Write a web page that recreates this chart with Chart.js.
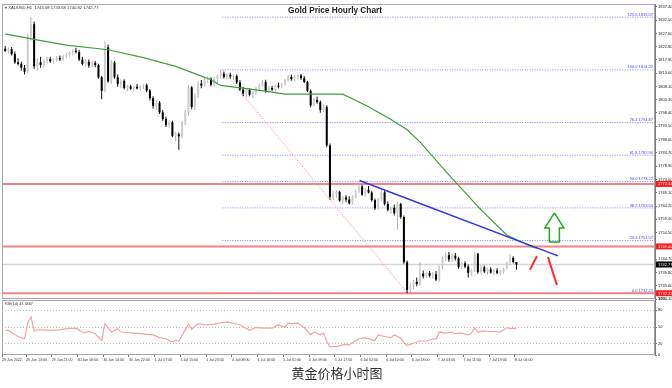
<!DOCTYPE html>
<html>
<head>
<meta charset="utf-8">
<title>Gold Price Hourly Chart</title>
<script src="https://cdn.jsdelivr.net/npm/chart.js@4.4.1/dist/chart.umd.min.js"></script>
<style>
html,body{margin:0;padding:0;background:#ffffff;}
canvas{display:block;}
</style>
</head>
<body>
<canvas id="chart" width="672" height="388"></canvas>
<script>
// ---------------- data ----------------
const symbol = 'XAUUSD,H1';
const chartTitle = 'Gold Price Hourly Chart';
const caption = '黄金价格小时图';

const openP = [
1822.0,1821.2,1821.8,1820.0,1817.0,1816.4,1815.0,1813.8,1826.5,1831.0,
1815.5,1817.0,1816.0,1817.5,1818.2,1817.3,1818.0,1818.6,1818.0,1819.2,
1819.6,1820.6,1821.2,1820.8,1818.0,1816.4,1817.2,1815.8,1816.8,1816.0,
1811.5,1806.5,1822.5,1810.0,1817.0,1811.5,1809.0,1810.2,1807.6,1808.2,
1807.2,1808.0,1807.4,1808.2,1808.6,1806.6,1803.8,1801.0,1802.2,1798.6,
1796.2,1794.0,1795.0,1790.0,1790.6,1789.8,1795.0,1798.5,1807.8,1800.6,
1805.0,1809.2,1808.4,1810.6,1811.0,1808.8,1810.8,1812.0,1812.8,1811.6,
1812.4,1811.8,1812.0,1809.6,1807.0,1805.5,1806.8,1805.0,1806.0,1807.5,
1808.5,1809.8,1806.5,1807.6,1807.0,1808.4,1808.0,1809.2,1810.5,1811.6,
1810.8,1811.8,1812.2,1811.2,1809.8,1806.5,1801.2,1803.2,1802.4,1799.5,
1800.7,1786.5,1767.6,1768.6,1769.4,1766.2,1767.4,1766.6,1765.2,1767.8,
1769.6,1771.4,1768.4,1770.2,1769.2,1766.4,1763.4,1766.6,1769.2,1765.0,
1762.8,1763.5,1761.6,1765.0,1760.2,1743.6,1733.4,1734.8,1736.4,1735.6,
1739.4,1738.4,1739.6,1738.6,1739.2,1737.2,1741.8,1745.0,1746.2,1744.6,
1746.0,1745.0,1741.8,1743.2,1742.0,1739.6,1740.6,1746.8,1740.0,1741.8,
1740.2,1741.0,1739.8,1740.6,1739.6,1740.2,1741.2,1743.4,1745.2,1743.68];
const highP = [
1823.0,1822.4,1822.6,1821.0,1818.5,1817.2,1816.0,1827.5,1833.5,1832.0,
1818.5,1819.0,1818.0,1819.0,1819.0,1818.5,1819.3,1819.5,1819.8,1820.5,
1821.0,1821.8,1822.3,1821.6,1819.0,1818.0,1818.0,1817.6,1817.5,1816.5,
1812.0,1824.7,1823.5,1817.8,1817.5,1812.5,1810.8,1810.8,1808.8,1808.8,
1808.5,1809.0,1808.6,1809.0,1809.2,1807.2,1804.5,1803.0,1802.8,1799.5,
1797.0,1795.6,1795.5,1791.5,1791.2,1795.5,1799.5,1808.8,1808.2,1805.6,
1810.0,1810.5,1811.2,1811.8,1811.5,1811.5,1812.5,1814.22,1813.6,1813.0,
1813.2,1812.6,1812.6,1810.5,1808.0,1807.5,1807.5,1806.5,1808.0,1809.0,
1810.5,1810.6,1808.2,1808.4,1808.8,1809.6,1809.5,1811.0,1812.2,1812.5,
1812.3,1812.6,1812.8,1812.0,1810.2,1807.0,1804.0,1804.4,1803.0,1801.5,
1801.2,1787.2,1769.8,1770.0,1769.8,1768.0,1768.2,1767.8,1768.2,1770.2,
1773.2,1772.0,1770.8,1771.6,1769.8,1767.0,1767.2,1770.0,1769.8,1766.0,
1764.0,1764.8,1765.8,1765.4,1760.8,1744.2,1735.8,1737.2,1738.0,1743.6,
1740.6,1740.2,1740.4,1740.0,1740.4,1742.4,1745.6,1747.2,1747.4,1746.8,
1747.0,1745.6,1743.8,1744.0,1742.8,1741.0,1747.3,1747.0,1742.6,1742.4,
1741.6,1741.8,1741.2,1741.4,1740.8,1741.6,1743.8,1746.6,1745.8,1743.68];
const lowP = [
1820.8,1820.2,1819.5,1816.5,1815.8,1814.0,1812.5,1813.0,1825.0,1814.5,
1814.0,1815.0,1815.0,1816.5,1816.8,1816.5,1817.2,1817.5,1817.6,1818.5,
1819.0,1819.8,1820.2,1817.5,1815.8,1815.5,1815.0,1815.0,1815.2,1811.0,
1803.4,1806.0,1809.5,1809.0,1811.0,1808.0,1807.5,1807.0,1806.5,1806.8,
1806.2,1807.0,1806.5,1807.2,1806.0,1803.0,1800.0,1799.5,1798.0,1795.5,
1793.2,1793.0,1789.5,1788.0,1784.9,1789.0,1794.0,1797.5,1799.8,1799.5,
1804.0,1807.5,1808.0,1809.5,1808.2,1808.0,1809.5,1811.0,1811.0,1810.6,
1811.0,1810.5,1809.0,1806.5,1804.5,1804.2,1804.5,1803.8,1805.0,1806.8,
1808.0,1805.8,1805.8,1806.5,1806.2,1807.4,1807.5,1808.5,1810.0,1810.2,
1810.0,1810.8,1810.5,1809.4,1806.0,1800.5,1800.8,1801.8,1798.5,1798.8,
1785.8,1766.5,1766.4,1767.2,1765.8,1765.0,1765.6,1764.8,1764.8,1767.2,
1769.0,1768.0,1767.6,1768.8,1765.8,1762.8,1763.0,1766.0,1764.4,1762.2,
1761.4,1760.8,1755.5,1759.6,1743.0,1732.22,1732.6,1733.6,1734.8,1735.0,
1737.6,1737.8,1738.0,1737.4,1736.6,1736.4,1741.0,1744.0,1743.8,1743.6,
1744.2,1741.2,1741.0,1741.4,1738.0,1738.6,1740.0,1739.4,1739.2,1739.6,
1739.0,1739.4,1739.0,1739.2,1738.8,1739.4,1740.8,1742.8,1743.2,1740.82];
const closeP = [
1821.2,1821.8,1820.0,1817.0,1816.4,1815.0,1813.5,1826.5,1831.0,1815.5,
1817.0,1816.0,1817.5,1818.2,1817.3,1818.0,1818.6,1818.0,1819.2,1819.6,
1820.6,1821.2,1820.8,1818.0,1816.4,1817.2,1815.8,1816.8,1816.0,1811.5,
1806.5,1822.5,1810.0,1817.0,1811.5,1809.0,1810.2,1807.6,1808.2,1807.2,
1808.0,1807.4,1808.2,1808.6,1806.6,1803.8,1801.0,1802.2,1798.6,1796.2,
1794.0,1795.0,1790.0,1790.6,1789.8,1795.0,1798.5,1807.8,1800.6,1805.0,
1809.2,1808.4,1810.6,1811.0,1808.8,1810.8,1812.0,1812.8,1811.6,1812.4,
1811.8,1812.0,1809.6,1807.0,1805.5,1806.8,1805.0,1806.0,1807.5,1808.5,
1809.8,1806.5,1807.6,1807.0,1808.4,1808.0,1809.2,1810.5,1811.6,1810.8,
1811.8,1812.2,1811.2,1809.8,1806.5,1801.2,1803.2,1802.4,1799.5,1800.7,
1786.5,1767.6,1768.6,1769.4,1766.2,1767.4,1766.6,1765.2,1767.8,1769.6,
1771.4,1768.4,1770.2,1769.2,1766.4,1763.4,1766.6,1769.2,1765.0,1762.8,
1763.5,1761.6,1765.0,1760.2,1743.6,1733.4,1734.8,1736.4,1735.6,1739.4,
1738.4,1739.6,1738.6,1739.2,1737.2,1741.8,1745.0,1746.2,1744.6,1746.0,
1745.0,1741.8,1743.2,1742.0,1739.6,1740.6,1746.8,1740.0,1741.8,1740.2,
1741.0,1739.8,1740.6,1739.6,1740.2,1741.2,1743.4,1745.2,1743.68,1742.77];

// moving average (green), read at sampled bar positions
const maBars   = [0,9,19,32,43,53,60,64,67,75,82,87,105,113,120,125,129,138,148,156,164,165.4];
const maValues = [1827.4,1825.4,1823.3,1821.6,1818.7,1815.5,1812.4,1810.6,1808.5,1807.3,1806.2,1805.3,1805.3,1800.7,1796.0,1792.2,1787.8,1775.7,1762.8,1753.6,1749.1,1748.8];

// RSI(14), read at sampled bar positions
const rsiBars = [0,1,2,3,4,5,6,7,8,9,10,12,14,17,19,22,24,25,26,28,30,31,33,35,36,42,46,48,50,52,53,54,57,58,60,62,65,69,73,76,78,81,83,85,87,88,89,91,93,95,96,98,99,100,101,103,105,106,107,109,110,112,114,115,116,118,120,121,123,124,125,127,129,131,133,134,135,137,139,140,142,144,145,146,147,149,150,152,154,156,157,159];
const rsiValues = [44,44,40,36,33,31,29,57,68,43,45,45,44,45,47,48,41,40,42,38,26,56,41,47,41,38,36,31,29,23,26,25,55,46,56,54,55,59,54,44,49,48,48,54,49,57,56,57,49,36,41,36,39,24,15,15,18,19,18,26,29,31,27,26,36,33,31,36,30,22,17,21,25,25,29,28,41,39,41,38,39,36,39,48,41,43,42,42,41,49,47,47.3467];

// axis tick labels
const xTickLabels = ['29 Jun 2022','29 Jun 13:00','29 Jun 21:00','30 Jun 06:00','30 Jun 14:00','30 Jun 22:00','1 Jul 07:00','1 Jul 15:00','1 Jul 23:00','4 Jul 08:00','4 Jul 16:00','5 Jul 01:00','5 Jul 09:00','5 Jul 17:00','6 Jul 02:00','6 Jul 10:00','6 Jul 18:00','7 Jul 03:00','7 Jul 11:00','7 Jul 19:00','8 Jul 04:00'];
const yTickValues = [1837.40,1832.50,1827.60,1822.80,1817.90,1813.00,1808.10,1803.30,1798.40,1793.50,1788.60,1783.70,1778.90,1774.00,1769.10,1764.20,1759.40,1754.50,1749.60,1744.70,1739.80,1735.00,1730.10];
const rsiTickValues = [100,80,50,20,0];
const rsiLevels = [80,50,20];

// drawn objects
const fibRatios = [0,23.6,38.2,50,61.8,76.4,100,123.6];
const fibPrices = [1732.22,1751.57,1763.54,1773.22,1782.90,1794.87,1814.22,1833.57];
const fibStartBar = 67.5;
const redLevels = [1772.34,1749.40,1732.22];
const currentPrice = 1742.77;
const trendBars = [110.2,171.9],  trendPrices = [1773.6,1745.9];
const anchorBars = [67.5,125.2],  anchorPrices = [1814.22,1732.22];
const strokeABars = [163.2,165.4], strokeAPrices = [1740.8,1745.9];
const strokeBBars = [168.8,171.6], strokeBPrices = [1745.5,1735.2];
const arrowBars   = [170.8,173.76,172.36,172.36,169.24,169.24,167.84,170.8];
const arrowPrices = [1761.7,1756.2,1756.2,1751.0,1751.0,1756.2,1756.2,1761.7];

// ---------------- chart ----------------
const X_MIN = -1, X_MAX = 202.1;
const FONT = '"Liberation Sans", Arial, sans-serif';
Chart.defaults.font.family = FONT;

const zip = (xs, ys) => xs.map((x, i) => ({x: x, y: ys[i]}));
const isUp = i => closeP[i] >= openP[i];

function lineDS(points, color, width, dash, ord, axis) {
  return {type: 'line', data: points, borderColor: color, borderWidth: width,
    borderDash: dash || [], pointRadius: 0, pointHoverRadius: 0, fill: false,
    tension: 0, order: ord, yAxisID: axis || 'y'};
}

const datasets = [];
// fib ray lines
fibPrices.forEach(p => datasets.push(lineDS([{x: fibStartBar, y: p}, {x: X_MAX, y: p}], '#8080ff', 1, [1, 1.5], 30)));
// horizontal red lines
redLevels.forEach(p => datasets.push(lineDS([{x: X_MIN, y: p}, {x: X_MAX, y: p}], 'rgba(240,110,110,0.85)', 2, [], 25)));
// current price line
datasets.push(lineDS([{x: X_MIN, y: currentPrice}, {x: X_MAX, y: currentPrice}], '#d6d6d6', 1.5, [], 26));
// fib anchor diagonal
datasets.push(lineDS(zip(anchorBars, anchorPrices), '#ff7f7f', 1, [1, 1.5], 24));
// candle wicks
datasets.push({type: 'bar', yAxisID: 'y', order: 10, grouped: false, barThickness: 1, inflateAmount: 0,
  data: openP.map((o, i) => ({x: i, y: [lowP[i], highP[i]]})),
  backgroundColor: openP.map((o, i) => isUp(i) ? '#b4b4b4' : '#111111'), borderWidth: 0});
// candle bodies
datasets.push({type: 'bar', yAxisID: 'y', order: 9, grouped: false, barThickness: 2, minBarLength: 1, inflateAmount: 0,
  data: openP.map((o, i) => ({x: i, y: [o, closeP[i]]})),
  backgroundColor: openP.map((o, i) => isUp(i) ? '#cdcdcd' : '#000000'), borderWidth: 0});
// moving average
datasets.push(lineDS(zip(maBars, maValues), '#3f9f3f', 1.2, [], 5));
// RSI
datasets.push(lineDS(zip(rsiBars, rsiValues), '#f4a2a2', 1.2, [], 5, 'y2'));
// trendline
datasets.push(lineDS(zip(trendBars, trendPrices), '#3030ee', 1.4, [], 3));
// red strokes
datasets.push(lineDS(zip(strokeABars, strokeAPrices), '#ff2a2a', 2, [], 2));
datasets.push(lineDS(zip(strokeBBars, strokeBPrices), '#ff2a2a', 2, [], 2));
// green hollow arrow
datasets.push(lineDS(zip(arrowBars, arrowPrices), '#22aa22', 1.5, [], 1));

const overlay = {
  id: 'overlay',
  afterDraw(chart) {
    const ctx = chart.ctx, a = chart.chartArea;
    const ys = chart.scales.y, yr = chart.scales.y2;
    ctx.save();
    // panel frames
    ctx.strokeStyle = '#a8a8a8'; ctx.lineWidth = 1;
    ctx.strokeRect(a.left + 0.5, ys.top + 0.5, a.right - a.left - 1, ys.bottom - ys.top - 1);
    ctx.strokeRect(a.left + 0.5, yr.top + 1.5, a.right - a.left - 1, yr.bottom - yr.top - 2);
    ctx.strokeStyle = '#7a7a7a';
    ctx.beginPath(); ctx.moveTo(a.right + 0.5, ys.top); ctx.lineTo(a.right + 0.5, yr.bottom); ctx.stroke();

    // fib labels
    ctx.font = '4px ' + FONT; ctx.fillStyle = '#4646ff';
    ctx.textAlign = 'right'; ctx.textBaseline = 'bottom';
    fibRatios.forEach((r, i) => {
      ctx.fillText(r.toFixed(1) + ' ' + fibPrices[i].toFixed(2), a.right - 2, ys.getPixelForValue(fibPrices[i]) - 0.5);
    });

    // axis boxes
    ctx.textAlign = 'left'; ctx.textBaseline = 'middle';
    const box = (v, bg) => {
      const py = ys.getPixelForValue(v);
      ctx.fillStyle = bg; ctx.fillRect(a.right + 1, py - 3, chart.width - a.right - 1, 6);
      ctx.fillStyle = '#ffffff'; ctx.fillText(v.toFixed(2), a.right + 3, py + 0.3);
    };
    redLevels.forEach(v => box(v, '#ff1a1a'));
    box(currentPrice, '#000000');

    // header text
    const last = openP.length - 1;
    ctx.fillStyle = '#333333'; ctx.font = '4.2px ' + FONT;
    ctx.fillText('\u25BE ' + symbol + '  ' + [openP[last], highP[last], lowP[last], closeP[last]].map(v => v.toFixed(2)).join(' '), a.left + 3, ys.top + 4);
    // RSI label
    ctx.font = '3.8px ' + FONT;
    ctx.fillText('RSI(14) ' + rsiValues[rsiValues.length - 1].toFixed(4), a.left + 3, yr.top + 4.5);

    // title
    ctx.font = 'bold 8.3px ' + FONT; ctx.fillStyle = '#222222'; ctx.textAlign = 'center';
    ctx.fillText(chartTitle, 335, ys.top + 6.5);

    // caption
    ctx.font = '13px "Noto Sans CJK SC", sans-serif'; ctx.fillStyle = '#333333';
    ctx.fillText(caption, 337, 373);
    ctx.restore();
  }
};

new Chart(document.getElementById('chart'), {
  type: 'bar',
  data: {datasets: datasets},
  plugins: [overlay],
  options: {
    responsive: false, animation: false, devicePixelRatio: 1, events: [],
    layout: {padding: {left: 2, top: 4, right: 0, bottom: 0}},
    plugins: {legend: {display: false}, tooltip: {enabled: false}, title: {display: false}},
    scales: {
      x: {
        type: 'linear', position: 'bottom', min: X_MIN, max: X_MAX, offset: false, bounds: 'data',
        afterBuildTicks: s => { s.ticks = xTickLabels.map((t, k) => ({value: Math.max(X_MIN, 8 * k - 1.5)})); },
        afterFit: s => { s.height = 33; },
        ticks: {autoSkip: false, maxRotation: 0, minRotation: 0, align: 'start', padding: 1,
          font: {size: 3.6}, color: '#333333', callback: (v, idx) => xTickLabels[idx]},
        grid: {display: true, drawOnChartArea: false, drawTicks: true, tickLength: 2, tickColor: '#777777', offset: false},
        border: {display: false}
      },
      y: {
        type: 'linear', position: 'right', stack: 'panels', stackWeight: 295, offset: false,
        min: 1730.1, max: 1838.4, bounds: 'data',
        afterBuildTicks: s => { s.ticks = yTickValues.map(v => ({value: v})); },
        afterFit: s => { s.width = 17; },
        ticks: {autoSkip: false, padding: 1, font: {size: 4}, color: '#222222', callback: v => Number(v).toFixed(2)},
        grid: {display: true, drawOnChartArea: false, drawTicks: true, tickLength: 2, tickColor: '#777777'},
        border: {display: false}
      },
      y2: {
        type: 'linear', position: 'right', stack: 'panels', stackWeight: 56, offset: false,
        min: 0, max: 100, bounds: 'data',
        afterBuildTicks: s => { s.ticks = rsiTickValues.map(v => ({value: v})); },
        afterFit: s => { s.width = 17; },
        ticks: {autoSkip: false, padding: 1, font: {size: 4}, color: '#222222', callback: v => String(v)},
        grid: {display: true, drawOnChartArea: true, drawTicks: true, tickLength: 2, tickColor: '#777777',
          color: c => (c.tick && rsiLevels.includes(c.tick.value)) ? '#bdbdbd' : 'rgba(0,0,0,0)'},
        border: {display: false, dash: [1, 2]}
      }
    }
  }
});
</script>
</body>
</html>
